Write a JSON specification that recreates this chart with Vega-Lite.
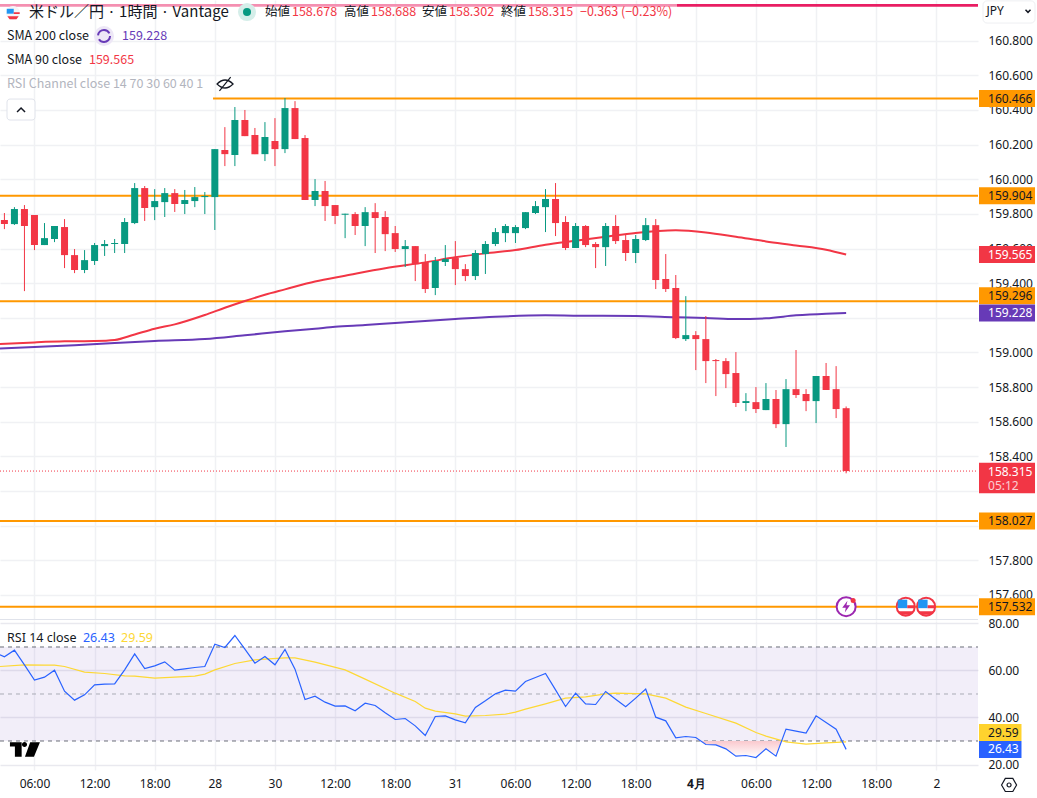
{
"$schema":"https://vega.github.io/schema/vega-lite/v6.json",
"padding":0,"background":"#ffffff","spacing":1,"bounds":"flush",
"config":{"view":{"stroke":null},"text":{"font":"Noto Sans"},"axis":{"labelFont":"Noto Sans"}},
"resolve":{"scale":{"color":"independent","x":"independent","y":"independent"}},
"datasets":{
"candles":[
{"i":0,"open":159.764,"high":159.805,"low":159.712,"close":159.741},
{"i":1,"open":159.741,"high":159.839,"low":159.736,"close":159.828},
{"i":2,"open":159.828,"high":159.851,"low":159.354,"close":159.730},
{"i":3,"open":159.793,"high":159.793,"low":159.591,"close":159.620},
{"i":4,"open":159.620,"high":159.747,"low":159.620,"close":159.660},
{"i":5,"open":159.655,"high":159.730,"low":159.637,"close":159.730},
{"i":6,"open":159.724,"high":159.770,"low":159.487,"close":159.562},
{"i":7,"open":159.562,"high":159.597,"low":159.458,"close":159.476},
{"i":8,"open":159.476,"high":159.591,"low":159.458,"close":159.533},
{"i":9,"open":159.528,"high":159.632,"low":159.505,"close":159.620},
{"i":10,"open":159.614,"high":159.649,"low":159.557,"close":159.626},
{"i":11,"open":159.626,"high":159.655,"low":159.574,"close":159.632},
{"i":12,"open":159.626,"high":159.776,"low":159.574,"close":159.753},
{"i":13,"open":159.747,"high":159.978,"low":159.741,"close":159.949},
{"i":14,"open":159.949,"high":159.961,"low":159.759,"close":159.834},
{"i":15,"open":159.839,"high":159.943,"low":159.764,"close":159.874},
{"i":16,"open":159.868,"high":159.949,"low":159.782,"close":159.920},
{"i":17,"open":159.920,"high":159.943,"low":159.811,"close":159.857},
{"i":18,"open":159.857,"high":159.938,"low":159.799,"close":159.880},
{"i":19,"open":159.874,"high":159.955,"low":159.839,"close":159.897},
{"i":20,"open":159.897,"high":159.926,"low":159.799,"close":159.903},
{"i":21,"open":159.897,"high":160.174,"low":159.707,"close":160.174},
{"i":22,"open":160.169,"high":160.301,"low":160.076,"close":160.145},
{"i":23,"open":160.140,"high":160.417,"low":160.076,"close":160.342},
{"i":24,"open":160.342,"high":160.400,"low":160.249,"close":160.249},
{"i":25,"open":160.255,"high":160.296,"low":160.145,"close":160.145},
{"i":26,"open":160.145,"high":160.330,"low":160.105,"close":160.244},
{"i":27,"open":160.221,"high":160.353,"low":160.076,"close":160.174},
{"i":28,"open":160.174,"high":160.469,"low":160.151,"close":160.411},
{"i":29,"open":160.411,"high":160.451,"low":160.232,"close":160.232},
{"i":30,"open":160.238,"high":160.255,"low":159.880,"close":159.880},
{"i":31,"open":159.880,"high":160.001,"low":159.845,"close":159.932},
{"i":32,"open":159.932,"high":159.990,"low":159.759,"close":159.845},
{"i":33,"open":159.851,"high":159.851,"low":159.741,"close":159.788},
{"i":34,"open":159.795,"high":159.801,"low":159.660,"close":159.801},
{"i":35,"open":159.799,"high":159.810,"low":159.678,"close":159.730},
{"i":36,"open":159.730,"high":159.839,"low":159.614,"close":159.810},
{"i":37,"open":159.810,"high":159.862,"low":159.574,"close":159.776},
{"i":38,"open":159.782,"high":159.816,"low":159.585,"close":159.683},
{"i":39,"open":159.689,"high":159.730,"low":159.580,"close":159.597},
{"i":40,"open":159.597,"high":159.649,"low":159.493,"close":159.614},
{"i":41,"open":159.614,"high":159.614,"low":159.412,"close":159.510},
{"i":42,"open":159.522,"high":159.568,"low":159.343,"close":159.366},
{"i":43,"open":159.372,"high":159.551,"low":159.331,"close":159.528},
{"i":44,"open":159.522,"high":159.620,"low":159.499,"close":159.539},
{"i":45,"open":159.545,"high":159.643,"low":159.389,"close":159.481},
{"i":46,"open":159.481,"high":159.510,"low":159.412,"close":159.441},
{"i":47,"open":159.441,"high":159.591,"low":159.418,"close":159.574},
{"i":48,"open":159.568,"high":159.643,"low":159.453,"close":159.626},
{"i":49,"open":159.626,"high":159.718,"low":159.614,"close":159.695},
{"i":50,"open":159.689,"high":159.741,"low":159.637,"close":159.730},
{"i":51,"open":159.689,"high":159.735,"low":159.632,"close":159.724},
{"i":52,"open":159.718,"high":159.810,"low":159.712,"close":159.810},
{"i":53,"open":159.805,"high":159.874,"low":159.799,"close":159.845},
{"i":54,"open":159.839,"high":159.943,"low":159.695,"close":159.886},
{"i":55,"open":159.886,"high":159.978,"low":159.672,"close":159.747},
{"i":56,"open":159.753,"high":159.787,"low":159.591,"close":159.603},
{"i":57,"open":159.603,"high":159.747,"low":159.603,"close":159.730},
{"i":58,"open":159.730,"high":159.735,"low":159.608,"close":159.620},
{"i":59,"open":159.626,"high":159.637,"low":159.487,"close":159.608},
{"i":60,"open":159.608,"high":159.747,"low":159.499,"close":159.730},
{"i":61,"open":159.730,"high":159.793,"low":159.626,"close":159.643},
{"i":62,"open":159.649,"high":159.683,"low":159.528,"close":159.574},
{"i":63,"open":159.574,"high":159.678,"low":159.516,"close":159.655},
{"i":64,"open":159.649,"high":159.776,"low":159.643,"close":159.735},
{"i":65,"open":159.735,"high":159.770,"low":159.366,"close":159.418},
{"i":66,"open":159.424,"high":159.568,"low":159.349,"close":159.366},
{"i":67,"open":159.372,"high":159.447,"low":159.077,"close":159.083},
{"i":68,"open":159.077,"high":159.325,"low":159.066,"close":159.100},
{"i":69,"open":159.100,"high":159.123,"low":158.898,"close":159.077},
{"i":70,"open":159.077,"high":159.210,"low":158.823,"close":158.950},
{"i":71,"open":158.956,"high":158.962,"low":158.748,"close":158.950},
{"i":72,"open":158.950,"high":158.967,"low":158.794,"close":158.875},
{"i":73,"open":158.881,"high":159.002,"low":158.685,"close":158.708},
{"i":74,"open":158.708,"high":158.765,"low":158.661,"close":158.719},
{"i":75,"open":158.713,"high":158.800,"low":158.650,"close":158.673},
{"i":76,"open":158.667,"high":158.823,"low":158.667,"close":158.731},
{"i":77,"open":158.731,"high":158.783,"low":158.563,"close":158.586},
{"i":78,"open":158.586,"high":158.846,"low":158.454,"close":158.788},
{"i":79,"open":158.788,"high":159.014,"low":158.737,"close":158.754},
{"i":80,"open":158.760,"high":158.788,"low":158.661,"close":158.719},
{"i":81,"open":158.719,"high":158.864,"low":158.592,"close":158.864},
{"i":82,"open":158.864,"high":158.939,"low":158.783,"close":158.783},
{"i":83,"open":158.788,"high":158.921,"low":158.621,"close":158.673},
{"i":84,"open":158.678,"high":158.688,"low":158.302,"close":158.315}
],
"sma90":[{"i":-0.44,"v":159.049},{"i":3,"v":159.058},{"i":6,"v":159.064},{"i":9,"v":159.066},{"i":11,"v":159.072},{"i":13,"v":159.104},{"i":15,"v":159.137},{"i":17,"v":159.162},{"i":20,"v":159.216},{"i":22,"v":159.258},{"i":24,"v":159.297},{"i":26,"v":159.333},{"i":28,"v":159.364},{"i":31,"v":159.410},{"i":34,"v":159.443},{"i":38,"v":159.486},{"i":42,"v":159.520},{"i":45,"v":159.549},{"i":48,"v":159.572},{"i":51,"v":159.591},{"i":54,"v":159.622},{"i":57,"v":159.645},{"i":60,"v":159.668},{"i":63,"v":159.690},{"i":67,"v":159.705},{"i":70,"v":159.693},{"i":73,"v":159.668},{"i":76,"v":159.641},{"i":79,"v":159.618},{"i":82,"v":159.593},{"i":84,"v":159.565}],
"sma200":[{"i":-0.44,"v":159.022},{"i":3,"v":159.031},{"i":7,"v":159.041},{"i":11,"v":159.054},{"i":15,"v":159.066},{"i":20,"v":159.077},{"i":24,"v":159.099},{"i":28,"v":159.122},{"i":31,"v":159.137},{"i":33,"v":159.148},{"i":36,"v":159.158},{"i":39,"v":159.170},{"i":45,"v":159.193},{"i":49,"v":159.206},{"i":54,"v":159.214},{"i":57,"v":159.212},{"i":63,"v":159.210},{"i":67,"v":159.203},{"i":70,"v":159.199},{"i":73,"v":159.193},{"i":76,"v":159.197},{"i":79,"v":159.214},{"i":82,"v":159.224},{"i":84,"v":159.228}],
"levels":[{"level":160.466,"from":20.82},{"level":159.904,"from":-0.44},{"level":159.296,"from":-0.44},{"level":158.027,"from":-0.44},{"level":157.532,"from":-0.44}],
"tags":[
{"name":"160.466","at":160.466,"role":"level"},
{"name":"159.904","at":159.904,"role":"level"},
{"name":"159.565","at":159.565,"role":"sma90"},
{"name":"159.296","at":159.327,"role":"level"},
{"name":"159.228","at":159.228,"role":"sma200"},
{"name":"158.027","at":158.027,"role":"level"},
{"name":"157.532","at":157.532,"role":"level"}],
"notes":[
{"text":"始値","i":26.01,"p":160.965,"role":"label"},{"text":"158.678","i":28.7,"p":160.965,"role":"loss"},
{"text":"高値","i":33.89,"p":160.965,"role":"label"},{"text":"158.688","i":36.59,"p":160.965,"role":"loss"},
{"text":"安値","i":41.68,"p":160.965,"role":"label"},{"text":"158.302","i":44.37,"p":160.965,"role":"loss"},
{"text":"終値","i":49.56,"p":160.965,"role":"label"},{"text":"158.315","i":52.25,"p":160.965,"role":"loss"},
{"text":"−0.363 (−0.23%)","i":57.44,"p":160.965,"role":"loss"},
{"text":"SMA 200 close","i":0.26,"p":160.827,"role":"label"},{"text":"159.228","i":11.74,"p":160.827,"role":"sma200"},
{"text":"SMA 90 close","i":0.26,"p":160.688,"role":"label"},{"text":"159.565","i":8.44,"p":160.688,"role":"loss"},
{"text":"RSI Channel close 14 70 30 60 40 1","i":0.26,"p":160.55,"role":"muted"}],
"icons":[
{"icon":"event","i":89.95,"p":157.532},{"icon":"event","i":91.98,"p":157.532},
{"icon":"bolt","i":84.0,"p":157.532},{"icon":"dot","i":84.7,"p":157.567},
{"icon":"symbol","i":0.86,"p":160.96},{"icon":"live","i":24.21,"p":160.965},
{"icon":"refresh","i":9.94,"p":160.827},{"icon":"eye","i":22.02,"p":160.55},
{"icon":"up","i":1.66,"p":160.3996},{"icon":"menu","i":102.15,"p":160.971}],
"rsi":[{"i":-0.44,"v":66.67},{"i":0,"v":65.82},{"i":1,"v":68.65},{"i":2,"v":62.41},{"i":3,"v":55.89},{"i":4,"v":57.16},{"i":5,"v":60.14},{"i":6,"v":51.21},{"i":7,"v":47.38},{"i":8,"v":49.65},{"i":9,"v":53.9},{"i":10,"v":54.18},{"i":11,"v":54.33},{"i":12,"v":60.28},{"i":13,"v":67.09},{"i":14,"v":60.85},{"i":15,"v":61.99},{"i":16,"v":63.69},{"i":17,"v":60.14},{"i":18,"v":60.71},{"i":19,"v":61.28},{"i":20,"v":61.7},{"i":21,"v":71.21},{"i":22,"v":69.79},{"i":23,"v":74.89},{"i":24,"v":69.08},{"i":25,"v":63.12},{"i":26,"v":65.96},{"i":27,"v":62.41},{"i":28,"v":68.94},{"i":29,"v":60.57},{"i":30,"v":47.66},{"i":31,"v":49.08},{"i":32,"v":46.52},{"i":33,"v":44.82},{"i":34,"v":44.96},{"i":35,"v":42.84},{"i":36,"v":46.1},{"i":37,"v":45.11},{"i":38,"v":41.99},{"i":39,"v":39.15},{"i":40,"v":39.57},{"i":41,"v":36.45},{"i":42,"v":32.34},{"i":43,"v":40.43},{"i":44,"v":40.71},{"i":45,"v":39.01},{"i":46,"v":37.73},{"i":47,"v":44.26},{"i":48,"v":47.09},{"i":49,"v":50.07},{"i":50,"v":51.63},{"i":51,"v":51.21},{"i":52,"v":55.32},{"i":53,"v":57.02},{"i":54,"v":58.72},{"i":55,"v":51.77},{"i":56,"v":44.68},{"i":57,"v":50.35},{"i":58,"v":45.82},{"i":59,"v":45.53},{"i":60,"v":51.06},{"i":61,"v":47.8},{"i":62,"v":44.54},{"i":63,"v":48.23},{"i":64,"v":52.06},{"i":65,"v":40.14},{"i":66,"v":38.58},{"i":67,"v":31.35},{"i":68,"v":31.91},{"i":69,"v":31.49},{"i":70,"v":28.51},{"i":71,"v":28.37},{"i":72,"v":26.67},{"i":73,"v":23.55},{"i":74,"v":23.83},{"i":75,"v":22.98},{"i":76,"v":26.67},{"i":77,"v":23.55},{"i":78,"v":35.04},{"i":79,"v":34.18},{"i":80,"v":33.33},{"i":81,"v":40.71},{"i":82,"v":37.87},{"i":83,"v":35.04},{"i":84,"v":26.43}],
"rsima":[{"i":-0.44,"v":61.7},{"i":2,"v":62.41},{"i":4,"v":62.27},{"i":5,"v":62.27},{"i":6,"v":61.7},{"i":8,"v":59.29},{"i":10,"v":58.72},{"i":12,"v":57.73},{"i":13,"v":57.59},{"i":15,"v":56.74},{"i":17,"v":57.16},{"i":19,"v":57.59},{"i":20,"v":58.44},{"i":21,"v":60.28},{"i":23,"v":62.98},{"i":25,"v":64.54},{"i":26,"v":64.82},{"i":28,"v":65.39},{"i":29,"v":65.39},{"i":31,"v":63.55},{"i":34,"v":60.28},{"i":36,"v":56.31},{"i":39,"v":50.35},{"i":41,"v":46.81},{"i":42,"v":43.97},{"i":43,"v":42.7},{"i":45,"v":41.56},{"i":46,"v":40.57},{"i":48,"v":40.85},{"i":50,"v":41.42},{"i":51,"v":42.27},{"i":52,"v":43.55},{"i":54,"v":45.82},{"i":56,"v":48.23},{"i":58,"v":48.79},{"i":60,"v":50.07},{"i":61,"v":50.35},{"i":64,"v":50.07},{"i":66,"v":48.23},{"i":68,"v":44.4},{"i":70,"v":41.7},{"i":73,"v":37.59},{"i":75,"v":33.62},{"i":76,"v":32.06},{"i":78,"v":29.65},{"i":80,"v":28.65},{"i":82,"v":29.2},{"i":84,"v":29.59}],
"oversold":[{"i":69.5,"v":30},{"i":70,"v":28.51},{"i":71,"v":28.37},{"i":72,"v":26.67},{"i":73,"v":23.55},{"i":74,"v":23.83},{"i":75,"v":22.98},{"i":76,"v":26.67},{"i":77,"v":23.55},{"i":77.55,"v":30}],
"rsiguides":[{"v":70},{"v":50},{"v":30}],
"rsitags":[{"name":"29.59","at":33.6,"role":"ma"},{"name":"26.43","at":26.4,"role":"rsi"}],
"rsinotes":[{"text":"RSI 14 close","i":0.26,"v":73.83,"role":"label"},{"text":"26.43","i":7.84,"v":73.83,"role":"rsi"},{"text":"29.59","i":11.64,"v":73.83,"role":"ma"}]
},
"vconcat":[
{"width":978,"height":620,"data":{"name":"candles"},"resolve":{"scale":{"color":"independent"}},"layer":[
{"data":{"name":"levels"},"mark":{"type":"rule","color":"#ff9800","strokeWidth":2,"clip":true},
 "encoding":{
  "x":{"field":"from","type":"quantitative","scale":{"domain":[-0.44,97.16],"nice":false,"zero":false,"padding":0},
   "axis":{"orient":"bottom","values":[3,9,15,21,27,33,39,45,51,57,63,69,75,81,87,93],"tickCount":40,"labels":false,"ticks":false,"domain":false,"grid":true,"gridColor":"#f0f1f4","gridWidth":1.5,"title":null}},
  "x2":{"datum":97.16},
  "y":{"field":"level","type":"quantitative","scale":{"domain":[157.455,161.035],"nice":false,"zero":false},
   "axis":{"orient":"right","values":[160.8,160.6,160.4,160.2,160,159.8,159.6,159.4,159.2,159,158.8,158.6,158.4,158.2,158,157.8,157.6],"tickCount":40,"labelExpr":"indexof(['159.200','158.200','158.000'],format(datum.value,'.3f'))>=0?'':format(datum.value,'.3f')","labelColor":"#131722","labelFontSize":12,"labelPadding":10,"ticks":false,"domain":false,"grid":true,"gridColor":"#f0f1f4","gridWidth":1.5,"title":null,"labelOverlap":false,"labelBound":false,"labelFlush":false}}}},
{"data":{"values":[{"from":-0.44,"to":67.12,"part":"past"},{"from":67.12,"to":97.16,"part":"left"}]},"mark":{"type":"rule","strokeWidth":2.7,"clip":true},
 "encoding":{"x":{"field":"from","type":"quantitative"},"x2":{"field":"to"},"y":{"datum":161.004},"color":{"field":"part","type":"nominal","scale":{"domain":["past","left"],"range":["#f48fb1","#e91e63"]},"legend":null}}},
{"data":{"name":"sma200"},"mark":{"type":"line","color":"#673ab7","strokeWidth":2,"clip":true,"interpolate":"monotone"},"encoding":{"x":{"field":"i","type":"quantitative"},"y":{"field":"v","type":"quantitative"}}},
{"data":{"name":"sma90"},"mark":{"type":"line","color":"#f23645","strokeWidth":2,"clip":true,"interpolate":"monotone"},"encoding":{"x":{"field":"i","type":"quantitative"},"y":{"field":"v","type":"quantitative"}}},
{"mark":{"type":"rule","strokeWidth":1},"encoding":{"x":{"field":"i","type":"quantitative"},"y":{"field":"low","type":"quantitative"},"y2":{"field":"high"},
  "color":{"condition":{"test":"datum.close>datum.open","value":"#089981"},"value":"#f23645"}}},
{"mark":{"type":"bar","size":7},"encoding":{"x":{"field":"i","type":"quantitative"},"y":{"field":"open","type":"quantitative"},"y2":{"field":"close"},
  "color":{"condition":{"test":"datum.close>datum.open","value":"#089981"},"value":"#f23645"}}},
{"data":{"values":[{"last":158.315}]},"mark":{"type":"rule","color":"#f23645","strokeWidth":1,"strokeDash":[1,2],"clip":true},"encoding":{"x":{"datum":-0.44},"x2":{"datum":97.16},"y":{"field":"last","type":"quantitative"}}},
{"data":{"values":[{"edge":157.455}]},"mark":{"type":"rule","color":"#e0e3eb","strokeWidth":2,"clip":true},"encoding":{"x":{"datum":-0.44},"x2":{"datum":97.16},"y":{"field":"edge","type":"quantitative"}}},
{"data":{"name":"tags"},"mark":{"type":"rule","strokeWidth":17},"encoding":{"x":{"datum":97.26},"x2":{"datum":102.85},"y":{"field":"at","type":"quantitative"},
  "color":{"field":"role","type":"nominal","scale":{"domain":["level","sma90","sma200"],"range":["#ff9800","#f23645","#673ab7"]},"legend":null}}},
{"data":{"values":[{"at":158.275}]},"mark":{"type":"rule","strokeWidth":30.6,"color":"#f23645"},"encoding":{"x":{"datum":97.26},"x2":{"datum":102.85},"y":{"field":"at","type":"quantitative"}}},
{"data":{"name":"tags"},"mark":{"type":"text","align":"left","baseline":"middle","fontSize":12},"encoding":{"x":{"datum":98.16},"y":{"field":"at","type":"quantitative"},"text":{"field":"name"},
  "color":{"condition":{"test":"datum.role=='level'","value":"#131722"},"value":"#ffffff"}}},
{"data":{"values":[{"text":"158.315","at":158.311}]},"mark":{"type":"text","align":"left","baseline":"middle","fontSize":12,"color":"#ffffff"},"encoding":{"x":{"datum":98.16},"y":{"field":"at","type":"quantitative"},"text":{"field":"text"}}},
{"data":{"values":[{"text":"05:12","at":158.23}]},"mark":{"type":"text","align":"left","baseline":"middle","fontSize":12,"color":"#ffffff","opacity":0.75},"encoding":{"x":{"datum":98.16},"y":{"field":"at","type":"quantitative"},"text":{"field":"text"}}},
{"data":{"values":[{"name":"JPY"}]},"mark":{"type":"rect","fill":"#ffffff","stroke":"#eeeff2","cornerRadius":4},"encoding":{"x":{"datum":97.66},"x2":{"datum":102.85},"y":{"datum":161.03},"y2":{"datum":160.902}}},
{"data":{"values":[{"name":"JPY"}]},"mark":{"type":"text","align":"left","baseline":"middle","fontSize":12,"color":"#131722"},"encoding":{"x":{"datum":98.0},"y":{"datum":160.971},"text":{"field":"name"}}},
{"data":{"values":[{"name":"button"}]},"mark":{"type":"rect","fill":"#ffffff","stroke":"#e0e3eb","cornerRadius":3},"encoding":{"x":{"datum":0.26},"x2":{"datum":3.05},"y":{"datum":160.463},"y2":{"datum":160.342}}},
{"data":{"values":[{"text":"米ドル／円 · 1時間 · Vantage"}]},"mark":{"type":"text","align":"left","baseline":"middle","fontSize":15,"font":"Noto Sans CJK JP","color":"#131722"},"encoding":{"x":{"datum":2.45},"y":{"datum":160.965},"text":{"field":"text"}}},
{"data":{"name":"notes"},"mark":{"type":"text","align":"left","baseline":"middle","fontSize":12.5,"font":"Noto Sans CJK JP"},"encoding":{"x":{"field":"i","type":"quantitative"},"y":{"field":"p","type":"quantitative"},"text":{"field":"text"},
  "color":{"field":"role","type":"nominal","scale":{"domain":["label","muted","loss","sma200"],"range":["#131722","#b2b5be","#f23645","#673ab7"]},"legend":null}}},
{"data":{"name":"icons"},"transform":[{"filter":"datum.icon=='event'"}],"mark":{"type":"point","shape":"circle","filled":true,"fill":"#ffffff","stroke":"#f23645","strokeWidth":2,"size":324,"opacity":1},"encoding":{"x":{"field":"i","type":"quantitative"},"y":{"field":"p","type":"quantitative"}}},
{"data":{"name":"icons"},"transform":[{"filter":"datum.icon=='event'"}],"mark":{"type":"point","shape":"M-.8,-.7H.15V.15H-.8Z","filled":true,"color":"#2196f3","size":400,"opacity":1},"encoding":{"x":{"field":"i","type":"quantitative"},"y":{"field":"p","type":"quantitative"}}},
{"data":{"name":"icons"},"transform":[{"filter":"datum.icon=='event'"}],"mark":{"type":"point","shape":"M.15,-.15H.85V.15H.15Z M-.75,.45H.75L.5,.8H-.5Z","filled":true,"color":"#f23645","size":400,"opacity":1},"encoding":{"x":{"field":"i","type":"quantitative"},"y":{"field":"p","type":"quantitative"}}},
{"data":{"name":"icons"},"transform":[{"filter":"datum.icon=='bolt'"}],"mark":{"type":"point","shape":"circle","filled":true,"fill":"#ffffff","stroke":"#9c27b0","strokeWidth":2,"size":361,"opacity":1},"encoding":{"x":{"field":"i","type":"quantitative"},"y":{"field":"p","type":"quantitative"}}},
{"data":{"name":"icons"},"transform":[{"filter":"datum.icon=='bolt'"}],"mark":{"type":"point","shape":"M.2,-.9 L-.6,.15 H-.05 L-.2,.9 L.6,-.2 H.05 Z","filled":true,"color":"#9c27b0","size":169,"opacity":1},"encoding":{"x":{"field":"i","type":"quantitative"},"y":{"field":"p","type":"quantitative"}}},
{"data":{"name":"icons"},"transform":[{"filter":"datum.icon=='dot'"}],"mark":{"type":"point","shape":"circle","filled":true,"color":"#f23645","size":25,"opacity":1},"encoding":{"x":{"field":"i","type":"quantitative"},"y":{"field":"p","type":"quantitative"}}},
{"data":{"name":"icons"},"transform":[{"filter":"datum.icon=='symbol'"}],"mark":{"type":"point","shape":"circle","filled":true,"color":"#f5f5f7","size":196,"opacity":1},"encoding":{"x":{"field":"i","type":"quantitative"},"y":{"field":"p","type":"quantitative"}}},
{"data":{"name":"icons"},"transform":[{"filter":"datum.icon=='symbol'"}],"mark":{"type":"point","shape":"M-.9,-.6H.1V.1H-.9Z","filled":true,"color":"#2196f3","size":196,"opacity":1},"encoding":{"x":{"field":"i","type":"quantitative"},"y":{"field":"p","type":"quantitative"}}},
{"data":{"name":"icons"},"transform":[{"filter":"datum.icon=='symbol'"}],"mark":{"type":"point","shape":"M-.8,.45H.8L.5,.9H-.5Z M.1,-.1H.95V.15H.1Z","filled":true,"color":"#f23645","size":196,"opacity":1},"encoding":{"x":{"field":"i","type":"quantitative"},"y":{"field":"p","type":"quantitative"}}},
{"data":{"name":"icons"},"transform":[{"filter":"datum.icon=='live'"}],"mark":{"type":"point","shape":"circle","filled":true,"color":"#d5eee9","size":324,"opacity":1},"encoding":{"x":{"field":"i","type":"quantitative"},"y":{"field":"p","type":"quantitative"}}},
{"data":{"name":"icons"},"transform":[{"filter":"datum.icon=='live'"}],"mark":{"type":"point","shape":"circle","filled":true,"color":"#089981","size":64,"opacity":1},"encoding":{"x":{"field":"i","type":"quantitative"},"y":{"field":"p","type":"quantitative"}}},
{"data":{"name":"icons"},"transform":[{"filter":"datum.icon=='refresh'"}],"mark":{"type":"point","shape":"circle","filled":true,"color":"#ede7f6","size":400,"opacity":1},"encoding":{"x":{"field":"i","type":"quantitative"},"y":{"field":"p","type":"quantitative"}}},
{"data":{"name":"icons"},"transform":[{"filter":"datum.icon=='refresh'"}],"mark":{"type":"point","shape":"circle","filled":false,"stroke":"#673ab7","strokeWidth":2,"strokeDash":[15,4],"size":144,"opacity":1},"encoding":{"x":{"field":"i","type":"quantitative"},"y":{"field":"p","type":"quantitative"}}},
{"data":{"name":"icons"},"transform":[{"filter":"datum.icon=='eye'"}],"mark":{"type":"point","shape":"M-1,0 Q0,-1 1,0 Q0,1 -1,0 Z M-.7,.85 L.7,-.85","filled":false,"stroke":"#131722","strokeWidth":1.2,"size":256,"opacity":1},"encoding":{"x":{"field":"i","type":"quantitative"},"y":{"field":"p","type":"quantitative"}}},
{"data":{"name":"icons"},"transform":[{"filter":"datum.icon=='up'"}],"mark":{"type":"point","shape":"M-1,.5 L0,-.5 L1,.5","filled":false,"stroke":"#131722","strokeWidth":1.5,"size":64,"opacity":1},"encoding":{"x":{"field":"i","type":"quantitative"},"y":{"field":"p","type":"quantitative"}}},
{"data":{"name":"icons"},"transform":[{"filter":"datum.icon=='menu'"}],"mark":{"type":"point","shape":"M-1,-.5 L0,.5 L1,-.5","filled":false,"stroke":"#131722","strokeWidth":1.5,"size":25,"opacity":1},"encoding":{"x":{"field":"i","type":"quantitative"},"y":{"field":"p","type":"quantitative"}}}
]},
{"width":978,"height":149,"data":{"name":"rsi"},"resolve":{"scale":{"color":"independent"}},"layer":[
{"data":{"values":[{"name":"band"}]},"mark":{"type":"rect","color":"#7e57c2","opacity":0.1},
 "encoding":{
  "x":{"datum":-0.44,"type":"quantitative","scale":{"domain":[-0.44,97.16],"nice":false,"zero":false},
   "axis":{"orient":"bottom","values":[3,9,15,21,27,33,39,45,51,57,63,69,75,81,87,93],"tickCount":40,"labelExpr":"{'3':'06:00','9':'12:00','15':'18:00','21':'28','27':'30','33':'12:00','39':'18:00','45':'31','51':'06:00','57':'12:00','63':'18:00','69':'4月','75':'06:00','81':'12:00','87':'18:00','93':'2'}[datum.value]","labelColor":"#131722","labelFontSize":12,"labelPadding":8,"labelFontWeight":{"condition":{"test":"datum.value==69","value":"bold"},"value":"normal"},"labelOverlap":false,"labelBound":false,"labelFlush":false,"ticks":false,"domain":false,"grid":true,"gridColor":"#f0f1f4","gridWidth":1.5,"title":null}},
  "x2":{"datum":97.16},
  "y":{"datum":70,"type":"quantitative","scale":{"domain":[17.66,81.06],"nice":false,"zero":false},
   "axis":{"orient":"right","values":[80,60,40,20],"format":".2f","labelColor":"#131722","labelFontSize":12,"labelPadding":10,"ticks":false,"domain":false,"grid":true,"gridColor":"#e9e9ef","gridWidth":1.5,"title":null,"labelOverlap":false,"labelBound":false,"labelFlush":false}},
  "y2":{"datum":30}}},
{"data":{"name":"rsiguides"},"mark":{"type":"rule","strokeWidth":1,"strokeDash":[4,4],"clip":true},"encoding":{"x":{"datum":-0.44},"x2":{"datum":97.16},"y":{"field":"v","type":"quantitative"},"color":{"condition":{"test":"datum.v==50","value":"#a9abb5"},"value":"#6a6d78"}}},
{"data":{"name":"oversold"},"mark":{"type":"area","color":{"gradient":"linear","x1":0,"y1":0,"x2":0,"y2":1,"stops":[{"offset":0,"color":"#fac9ce"},{"offset":1,"color":"#ffffff"}]}},"encoding":{"x":{"field":"i","type":"quantitative"},"y":{"field":"v","type":"quantitative"},"y2":{"datum":30}}},
{"data":{"name":"rsima"},"mark":{"type":"line","color":"#fdd835","strokeWidth":1.2,"clip":true},"encoding":{"x":{"field":"i","type":"quantitative"},"y":{"field":"v","type":"quantitative"}}},
{"mark":{"type":"line","color":"#2962ff","strokeWidth":1.2,"clip":true},"encoding":{"x":{"field":"i","type":"quantitative"},"y":{"field":"v","type":"quantitative"}}},
{"data":{"name":"rsitags"},"mark":{"type":"rule","strokeWidth":17},"encoding":{"x":{"datum":97.26},"x2":{"datum":101.5},"y":{"field":"at","type":"quantitative"},
  "color":{"field":"role","type":"nominal","scale":{"domain":["ma","rsi"],"range":["#ffd32e","#2962ff"]},"legend":null}}},
{"data":{"name":"rsitags"},"mark":{"type":"text","align":"left","baseline":"middle","fontSize":12},"encoding":{"x":{"datum":98.16},"y":{"field":"at","type":"quantitative"},"text":{"field":"name"},
  "color":{"condition":{"test":"datum.role=='ma'","value":"#131722"},"value":"#ffffff"}}},
{"data":{"name":"rsinotes"},"mark":{"type":"text","align":"left","baseline":"middle","fontSize":12.5},"encoding":{"x":{"field":"i","type":"quantitative"},"y":{"field":"v","type":"quantitative"},"text":{"field":"text"},
  "color":{"field":"role","type":"nominal","scale":{"domain":["label","rsi","ma"],"range":["#131722","#2962ff","#fdd835"]},"legend":null}}},
{"data":{"values":[{"i":2.05,"v":26.47}]},"mark":{"type":"point","shape":"M-1,-.47 H-.22 V.49 H-.67 V-.18 H-1 Z M-.2,-.32 a.17,.17 0 1,0 .34,0 a.17,.17 0 1,0 -.34,0 Z M.35,-.47 H1 L.6,.49 H0 Z","filled":true,"color":"#000000","size":900,"opacity":1},"encoding":{"x":{"field":"i","type":"quantitative"},"y":{"field":"v","type":"quantitative"}}},
{"data":{"values":[{"i":100.26,"v":11.28}]},"mark":{"type":"point","shape":"M-1,0 L-.5,-.87 H.5 L1,0 L.5,.87 H-.5 Z","filled":false,"stroke":"#131722","strokeWidth":1.2,"size":225,"opacity":1},"encoding":{"x":{"field":"i","type":"quantitative"},"y":{"field":"v","type":"quantitative"}}},
{"data":{"values":[{"i":100.26,"v":11.28}]},"mark":{"type":"point","shape":"circle","filled":false,"stroke":"#131722","strokeWidth":1.2,"size":16,"opacity":1},"encoding":{"x":{"field":"i","type":"quantitative"},"y":{"field":"v","type":"quantitative"}}}
]}
]
}
